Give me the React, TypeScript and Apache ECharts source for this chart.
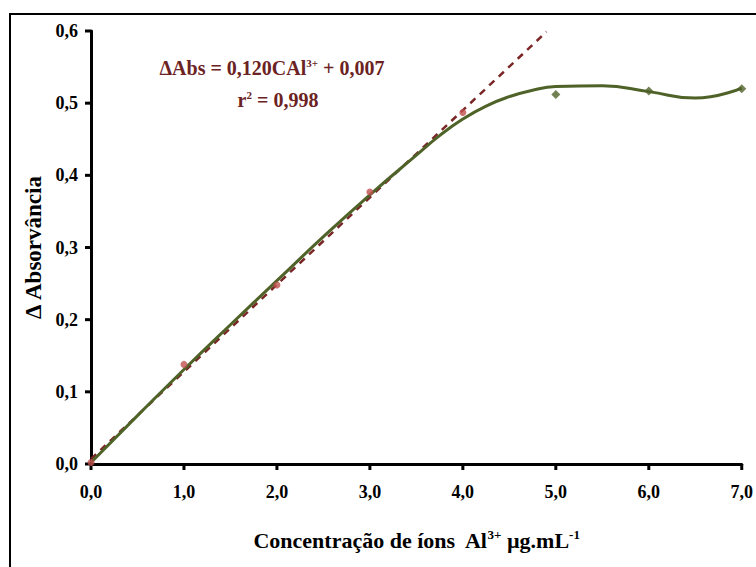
import React, { useEffect, useRef } from "react";
import * as echarts from "echarts";

// Measured points (concentration µg/mL, ΔAbs)
const linearPoints: [number, number][] = [
  [0, 0.002],
  [1, 0.138],
  [2, 0.248],
  [3, 0.377],
  [4, 0.487],
];
const plateauPoints: [number, number][] = [
  [5, 0.512],
  [6, 0.517],
  [7, 0.52],
];
// Polynomial trend curve
const trendCurve: [number, number][] = [
  [0, 0.002],
  [0.5, 0.067],
  [1, 0.131],
  [1.5, 0.193],
  [2, 0.254],
  [2.5, 0.315],
  [3, 0.373],
  [3.5, 0.428],
  [3.75, 0.455],
  [4, 0.478],
  [4.25, 0.496],
  [4.5, 0.509],
  [4.75, 0.518],
  [5, 0.523],
  [5.5, 0.524],
  [6, 0.516],
  [6.5, 0.507],
  [7, 0.521],
];
// Linear regression line end points (ΔAbs = 0,120 CAl3+ + 0,007)
const regressionLine: [number, number][] = [
  [0, 0.007],
  [4.9, 0.599],
];
// Tick values
const xTicks = [0, 1, 2, 3, 4, 5, 6, 7];
const yTicks = [0, 0.1, 0.2, 0.3, 0.4, 0.5, 0.6];

const FONT = "'Liberation Serif', 'Times New Roman', serif";
const fmt = (v: number) => v.toFixed(1).replace(".", ",");
const TICK_LEN = 6;

export default function App() {
  const ref = useRef<HTMLDivElement>(null);
  useEffect(() => {
    if (!ref.current) return;
    const chart = echarts.init(ref.current, null, { renderer: "svg" });
    chart.setOption({
      animation: false,
      backgroundColor: "#ffffff",
      grid: { left: 91, right: 8, top: 31, bottom: 103 },
      graphic: [
        {
          type: "rect",
          shape: { x: 10, y: 14, width: 780, height: 600 },
          style: { fill: "none", stroke: "#000", lineWidth: 2 },
          silent: true,
        },
        {
          type: "text",
          x: 272,
          y: 68,
          style: {
            text: "{m|ΔAbs = 0,120CAl}{s|3+}{m| + 0,007}",
            textAlign: "center",
            textVerticalAlign: "middle",
            rich: {
              m: { fontFamily: FONT, fontWeight: "bold", fontSize: 20, fill: "#6b2222", lineHeight: 22 },
              s: { fontFamily: FONT, fontWeight: "bold", fontSize: 11, fill: "#6b2222", verticalAlign: "top", lineHeight: 22 },
            },
          },
          z: 10,
        },
        {
          type: "text",
          x: 278,
          y: 100,
          style: {
            text: "{m|r}{s|2}{m| = 0,998}",
            textAlign: "center",
            textVerticalAlign: "middle",
            rich: {
              m: { fontFamily: FONT, fontWeight: "bold", fontSize: 20, fill: "#6b2222", lineHeight: 22 },
              s: { fontFamily: FONT, fontWeight: "bold", fontSize: 11, fill: "#6b2222", verticalAlign: "top", lineHeight: 22 },
            },
          },
          z: 10,
        },
      ],
      xAxis: {
        type: "value",
        min: 0,
        max: 7,
        interval: 1,
        splitLine: { show: false },
        axisLine: { show: true, onZero: false, lineStyle: { color: "#000", width: 3 } },
        axisTick: { show: false },
        axisLabel: {
          formatter: fmt,
          fontFamily: FONT,
          fontWeight: "bold",
          fontSize: 18,
          color: "#000",
          margin: 19,
        },
        name: "{m|Concentração de íons  Al}{s|3+}{m| µg.mL}{s|-1}",
        nameLocation: "middle",
        nameGap: 64,
        nameTextStyle: {
          rich: {
            m: { fontFamily: FONT, fontWeight: "bold", fontSize: 22, color: "#000", lineHeight: 24 },
            s: { fontFamily: FONT, fontWeight: "bold", fontSize: 13, color: "#000", verticalAlign: "top", lineHeight: 24 },
          },
        },
      },
      yAxis: {
        type: "value",
        min: 0,
        max: 0.6,
        interval: 0.1,
        splitLine: { show: false },
        axisLine: { show: true, onZero: false, lineStyle: { color: "#000", width: 3 } },
        axisTick: { show: false },
        axisLabel: {
          formatter: fmt,
          fontFamily: FONT,
          fontWeight: "bold",
          fontSize: 18,
          color: "#000",
          margin: 13,
        },
        name: "Δ Absorvância",
        nameLocation: "middle",
        nameGap: 46,
        nameTextStyle: {
          fontFamily: FONT,
          fontWeight: "bold",
          fontSize: 23,
          color: "#000",
        },
      },
      series: [
        {
          type: "custom",
          clip: false,
          silent: true,
          data: xTicks.map((v) => [v, 0]),
          renderItem: (_params: any, api: any) => {
            const p = api.coord([api.value(0), api.value(1)]);
            return {
              type: "line",
              shape: { x1: p[0], y1: p[1], x2: p[0], y2: p[1] + TICK_LEN },
              style: { stroke: "#000", lineWidth: 3 },
            };
          },
          z: 1,
        },
        {
          type: "custom",
          clip: false,
          silent: true,
          data: yTicks.map((v) => [0, v]),
          renderItem: (_params: any, api: any) => {
            const p = api.coord([api.value(0), api.value(1)]);
            return {
              type: "line",
              shape: { x1: p[0] - TICK_LEN, y1: p[1], x2: p[0], y2: p[1] },
              style: { stroke: "#000", lineWidth: 3 },
            };
          },
          z: 1,
        },
        {
          type: "line",
          data: regressionLine,
          showSymbol: false,
          lineStyle: { color: "#7a2626", width: 2.5, type: [7, 6] },
          z: 2,
        },
        {
          type: "line",
          data: trendCurve,
          smooth: true,
          showSymbol: false,
          lineStyle: { color: "#4f6228", width: 3 },
          z: 3,
        },
        {
          type: "scatter",
          data: linearPoints,
          symbol: "circle",
          symbolSize: 7,
          itemStyle: { color: "#c0504d" },
          z: 4,
        },
        {
          type: "scatter",
          data: plateauPoints,
          symbol: "diamond",
          symbolSize: 9,
          itemStyle: { color: "#4f6228" },
          z: 4,
        },
      ],
    });
    return () => chart.dispose();
  }, []);
  return (
    <div
      ref={ref}
      style={{ position: "fixed", left: 0, top: 0, width: 756, height: 567 }}
    />
  );
}
